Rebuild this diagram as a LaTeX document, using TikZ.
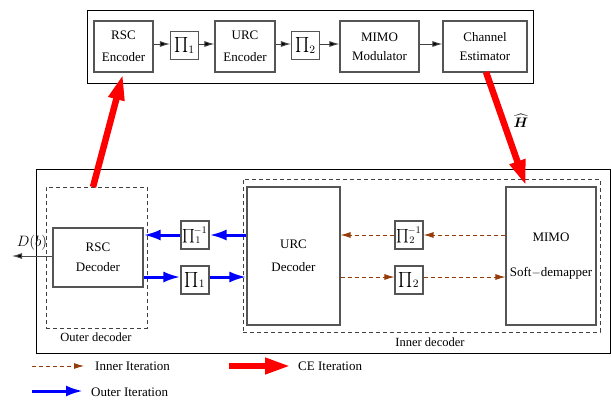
\documentclass[tikz,border=0pt]{standalone}
\usepackage{amsmath}
\usepackage{graphicx}
\usepackage{fontspec}
\setmainfont{Liberation Serif}
\usetikzlibrary{arrows.meta}
\definecolor{brownarr}{RGB}{150,60,10}
\definecolor{boxgray}{RGB}{85,85,85}
\newcommand{\bigpi}[1]{\scalebox{1.25}{$\prod#1$}}
\newcommand{\bigpiinv}[1]{\scalebox{1.12}{$\prod\nolimits_{#1}^{\!-1}$}}
\begin{document}
\begin{tikzpicture}[x=1pt,y=-1pt,
  font=\fontsize{13}{15}\selectfont,
  blk/.style={draw=boxgray,line width=1.1pt,align=center,inner sep=0pt},
  pibox/.style={draw=boxgray,line width=1.1pt,inner sep=0pt,minimum width=28,minimum height=28},
  frame/.style={draw=black,line width=0.9pt},
  dashbox/.style={draw=black!75,line width=0.9pt,dash pattern=on 4pt off 3pt},
  blkarr/.style={draw=black!75,line width=1pt,-{Latex[length=10pt,width=6pt,fill=black]}},
  bluearr/.style={draw=blue,line width=3pt,-{Latex[length=17pt,width=11pt]}},
  brownarr/.style={draw=brownarr,line width=0.9pt,dash pattern=on 4pt off 3pt,-{Latex[length=10pt,width=6pt,fill=brownarr]}},
  redarr/.style={draw=red,line width=6.5pt,-{Triangle[length=26pt,width=15pt]}}
]
\useasboundingbox (0,0) rectangle (611,400);

% ---------- transmitter ----------
\node[frame,minimum width=446,minimum height=73,inner sep=0pt] (tx) at (310,46.5) {};
\node[blk,minimum width=59,minimum height=51] (rsce) at (123.5,46.5) {RSC\\[7pt]Encoder};
\node[pibox] (p1) at (184.5,45.5) {\bigpi{_1}};
\node[blk,minimum width=60,minimum height=51] (urce) at (245,46.5) {URC\\[7pt]Encoder};
\node[pibox] (p2) at (305.5,45.5) {\bigpi{_2}};
\node[blk,minimum width=79,minimum height=51] (mod) at (379.5,46.5) {MIMO\\[4pt]Modulator};
\node[blk,minimum width=84,minimum height=51] (ce) at (485,46.5) {Channel\\[4pt]Estimator};
\draw[blkarr] (rsce.east |- 0,44) -- (p1.west |- 0,44);
\draw[blkarr] (p1.east |- 0,44) -- (urce.west |- 0,44);
\draw[blkarr] (urce.east |- 0,44) -- (p2.west |- 0,44);
\draw[blkarr] (p2.east |- 0,44) -- (mod.west |- 0,44);
\draw[blkarr] (mod.east |- 0,44) -- (ce.west |- 0,44);

% ---------- receiver ----------
\node[frame,minimum width=574,minimum height=184,inner sep=0pt] (rx) at (323,261) {};
\node[dashbox,minimum width=101,minimum height=141,inner sep=0pt] (outer) at (96.5,257.5) {};
\node[dashbox,minimum width=357,minimum height=153,inner sep=0pt] (inner) at (421.5,255.5) {};
\node[font=\fontsize{12.5}{15}\selectfont] (outerlbl) at (96,337) {Outer decoder};
\node[font=\fontsize{12.5}{15}\selectfont] (innerlbl) at (430,342) {Inner decoder};

\node[blk,minimum width=90,minimum height=59] (rscd) at (98,257.5) {RSC\\[5pt]Decoder};
\node[pibox] (pi1i) at (195,235) {\bigpiinv{1}};
\node[pibox] (pi1) at (195,280) {\bigpi{_1}};
\node[blk,minimum width=93,minimum height=138] (urcd) at (293.5,256) {URC\\[8pt]Decoder};
\node[pibox] (pi2i) at (409,235) {\bigpiinv{2}};
\node[pibox] (pi2) at (409,280) {\bigpi{_2}};
\node[blk,minimum width=90,minimum height=138] (dem) at (551,256) {MIMO\\[20pt]Soft$-$demapper};

% blue outer iteration
\draw[bluearr] (urcd.west |- 0,235) -- (pi1i.east |- 0,235);
\draw[bluearr] (pi1i.west |- 0,235) -- (rscd.east |- 0,235);
\draw[bluearr] (rscd.east |- 0,277) -- (pi1.west |- 0,277);
\draw[bluearr] (pi1.east |- 0,277) -- (urcd.west |- 0,277);

% brown inner iteration
\draw[brownarr] (dem.west |- 0,235) -- (pi2i.east |- 0,235);
\draw[brownarr] (pi2i.west |- 0,235) -- (urcd.east |- 0,235);
\draw[brownarr] (urcd.east |- 0,277) -- (pi2.west |- 0,277);
\draw[brownarr] (pi2.east |- 0,277) -- (dem.west |- 0,277);

% output D(b)
\coordinate (dout) at (12,256);
\draw[draw=black!70,line width=1pt,-{Latex[length=10pt,width=6pt,fill=black]}] (rscd.west |- 0,256) -- (dout);
\node (dlbl) at (32,243) {\scalebox{1.25}{$D(b)$}};

% red CE iteration
\coordinate (rt1) at (93,187);
\coordinate (rh1) at (123,74);
\draw[redarr] (rt1) -- (rh1);
\coordinate (rt2) at (486,72);
\coordinate (rh2) at (526,186);
\draw[redarr] (rt2) -- (rh2);
\node[inner sep=1pt] (hlbl) at (521,121) {\scalebox{1.15}{$\widehat{\boldsymbol{H}}$}};

% ---------- legend ----------
\coordinate (l1a) at (32,366); \coordinate (l1b) at (84,366);
\draw[brownarr] (l1a) -- (l1b);
\node[anchor=west,inner sep=0pt] (l1t) at (95,366) {Inner Iteration};
\coordinate (l2a) at (229,366); \coordinate (l2b) at (291,366);
\draw[redarr] (l2a) -- (l2b);
\node[anchor=west,inner sep=0pt] (l2t) at (298,366) {CE Iteration};
\coordinate (l3a) at (32,391); \coordinate (l3b) at (83,391);
\draw[bluearr] (l3a) -- (l3b);
\node[anchor=west,inner sep=0pt] (l3t) at (91,392) {Outer Iteration};
\end{tikzpicture}
\end{document}
